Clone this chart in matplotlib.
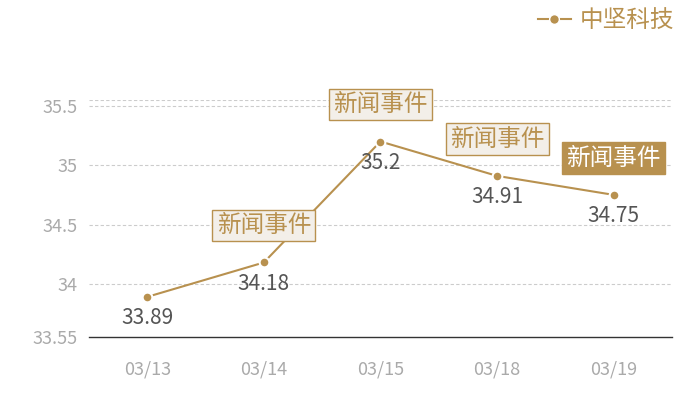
import matplotlib
matplotlib.use("Agg")
import matplotlib.pyplot as plt
from matplotlib.lines import Line2D

plt.rcParams['font.family'] = ['Noto Sans CJK SC', 'DejaVu Sans']

dates = ["03/13", "03/14", "03/15", "03/18", "03/19"]
prices = [33.89, 34.18, 35.2, 34.91, 34.75]
news_idx = [1, 2, 3, 4]          # points with a news tag
highlight_idx = 4                # the filled tag
yticks = [33.55, 34, 34.5, 35, 35.5]
ytick_labels = ["33.55", "34", "34.5", "35", "35.5"]
series_name = "中坚科技"
tag_text = "新闻事件"

gold = "#b8914f"

fig = plt.figure(figsize=(7, 4), dpi=100)
ax = fig.add_axes([0.127, 0.157, 0.833, 0.593])

x = list(range(len(dates)))
ax.plot(x, prices, color=gold, lw=1.5, marker="o", markersize=7,
        markerfacecolor=gold, markeredgecolor="white", markeredgewidth=1.5, zorder=3)

ax.set_xlim(-0.5, len(dates) - 0.5)
ax.set_ylim(33.55, 35.55)
ax.set_yticks(yticks)
ax.set_yticklabels(ytick_labels)
ax.set_xticks(x)
ax.set_xticklabels(dates)

for y in yticks[1:] + [35.55]:
    ax.axhline(y, color="#cccccc", lw=0.8, ls=(0, (3, 2)), zorder=1)

for s in ["top", "right", "left"]:
    ax.spines[s].set_visible(False)
ax.spines["bottom"].set_color("#333333")
ax.spines["bottom"].set_linewidth(1)
ax.tick_params(axis="both", length=0, labelsize=13, labelcolor="#aaaaaa")
ax.tick_params(axis="x", pad=17)
ax.tick_params(axis="y", pad=8)

for i, v in enumerate(prices):
    ax.annotate(f"{v:g}", (i, v), xytext=(0, -15.5), textcoords="offset points",
                ha="center", va="center", fontsize=15, color="#555555", zorder=4)

for i in news_idx:
    if i == highlight_idx:
        fc, tc = gold, "white"
    else:
        fc, tc = "#f3efe9", gold
    ax.annotate(tag_text, (i, prices[i]), xytext=(0, 26.5), textcoords="offset points",
                ha="center", va="center", fontsize=17, color=tc, zorder=5,
                bbox=dict(boxstyle="square,pad=0.18", fc=fc, ec=gold, lw=1))

handle = Line2D([], [], color=gold, lw=1.5, marker="o", markersize=7,
                markerfacecolor=gold, markeredgecolor="white")
leg = fig.legend([handle], [series_name], loc="upper right", bbox_to_anchor=(0.994, 1.03),
                 frameon=False, fontsize=17, handlelength=1.4, handletextpad=0.4)
for t in leg.get_texts():
    t.set_color(gold)

fig.savefig("out.png", dpi=100)
